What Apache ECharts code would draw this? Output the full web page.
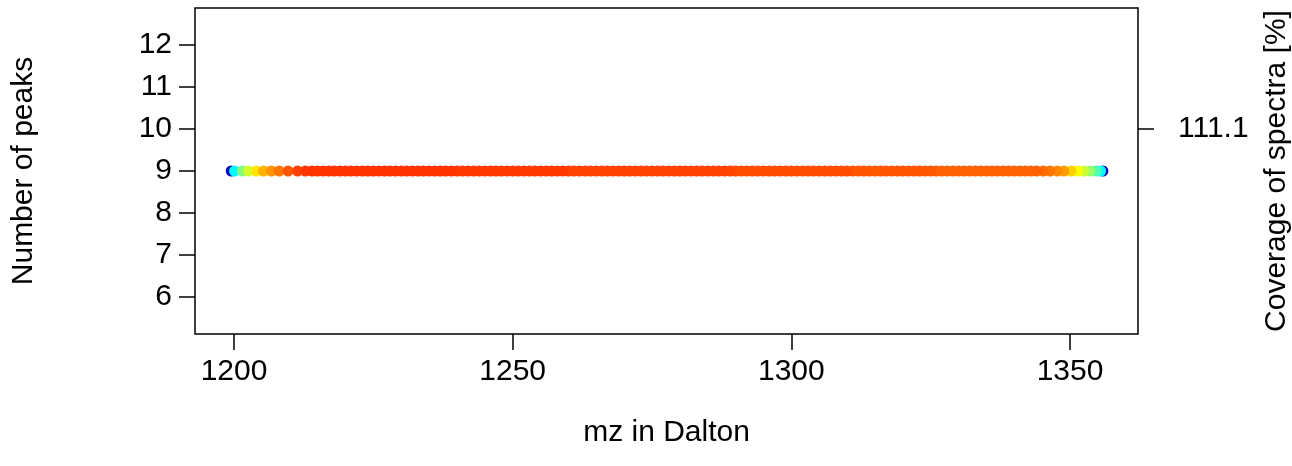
<!DOCTYPE html>
<html>
<head>
<meta charset="utf-8">
<script src="https://cdn.jsdelivr.net/npm/echarts@6/dist/echarts.min.js"></script>
<style>html,body{margin:0;padding:0;background:#fff}#c{width:1292px;height:466px}</style>
</head>
<body>
<div id="c"></div>
<script>
// m/z positions of the plotted points (Dalton)
const mz = [1199.5, 1200.1, 1201.5, 1202.6, 1204.0, 1205.3, 1206.7, 1208.1, 1209.7, 1211.4, 1212.8,
  1214, 1215, 1216, 1217, 1218, 1219, 1220, 1221, 1222, 1223, 1224, 1225, 1226, 1227, 1228, 1229, 1230, 1231, 1232, 1233, 1234, 1235, 1236, 1237, 1238, 1239,
  1240, 1241, 1242, 1243, 1244, 1245, 1246, 1247, 1248, 1249, 1250, 1251, 1252, 1253, 1254, 1255, 1256, 1257, 1258, 1259,
  1260, 1261, 1262, 1263, 1264, 1265, 1266, 1267, 1268, 1269, 1270, 1271, 1272, 1273, 1274, 1275, 1276, 1277, 1278, 1279, 1280, 1281, 1282, 1283, 1284, 1285, 1286, 1287, 1288, 1289,
  1290, 1291, 1292, 1293, 1294, 1295, 1296, 1297, 1298, 1299, 1300, 1301, 1302, 1303, 1304, 1305, 1306, 1307, 1308, 1309, 1310,
  1311, 1312, 1313, 1314, 1315, 1316, 1317, 1318, 1319, 1320, 1321, 1322, 1323, 1324, 1325,
  1326, 1327, 1328, 1329, 1330, 1331, 1332, 1333, 1334, 1335, 1336, 1337, 1338, 1339, 1340, 1341, 1342, 1343, 1344,
  1345.2, 1346.4, 1347.7, 1348.9, 1350.2, 1351.4, 1352.5, 1353.6, 1354.7, 1355.5, 1355.9];
// number of peaks at each position
const peaks = [9,9,9,9,9,9,9,9,9,9,9,
  9,9,9,9,9,9,9,9,9,9,9,9,9,9,9,9,9,9,9,9,9,9,9,9,9,9,
  9,9,9,9,9,9,9,9,9,9,9,9,9,9,9,9,9,9,9,9,
  9,9,9,9,9,9,9,9,9,9,9,9,9,9,9,9,9,9,9,9,9,9,9,9,9,9,9,9,9,9,
  9,9,9,9,9,9,9,9,9,9,9,9,9,9,9,9,9,9,9,9,9,
  9,9,9,9,9,9,9,9,9,9,9,9,9,9,9,
  9,9,9,9,9,9,9,9,9,9,9,9,9,9,9,9,9,9,9,
  9,9,9,9,9,9,9,9,9,9,9];
// relative coverage level (colour scale 0..1)
const coverage = [0.06, 0.37, 0.50, 0.58, 0.65, 0.70, 0.73, 0.76, 0.79, 0.81, 0.82,
  0.825,0.825,0.825,0.825,0.825,0.825,0.825,0.825,0.825,0.825,0.825,0.825,0.825,0.825,0.825,0.825,0.825,0.825,0.825,0.825,0.825,0.825,0.825,0.825,0.825,0.825,
  0.82,0.82,0.82,0.82,0.82,0.82,0.82,0.82,0.82,0.82,0.82,0.82,0.82,0.82,0.82,0.82,0.82,0.82,0.82,0.82,
  0.81,0.81,0.81,0.81,0.81,0.81,0.81,0.81,0.81,0.81,0.81,0.81,0.81,0.81,0.81,0.81,0.81,0.81,0.81,0.81,0.81,0.81,0.81,0.81,0.81,0.81,0.81,0.81,0.81,0.81,
  0.80,0.80,0.80,0.80,0.80,0.80,0.80,0.80,0.80,0.80,0.80,0.80,0.80,0.80,0.80,0.80,0.80,0.80,0.80,0.80,0.80,
  0.79,0.79,0.79,0.79,0.79,0.79,0.79,0.79,0.79,0.79,0.79,0.79,0.79,0.79,0.79,
  0.78,0.78,0.78,0.78,0.78,0.78,0.78,0.78,0.78,0.78,0.78,0.78,0.78,0.78,0.78,0.78,0.78,0.78,0.78,
  0.77, 0.76, 0.74, 0.72, 0.67, 0.62, 0.57, 0.52, 0.45, 0.37, 0.06];
const xTicks = [1200, 1250, 1300, 1350];
const yTicks = [6, 7, 8, 9, 10, 11, 12];
const rightTickValues = [10];
const rightTickLabels = ['111.1'];

const jet = ['#00007F', '#0000FF', '#007FFF', '#00FFFF', '#7FFF7F', '#FFFF00', '#FF7F00', '#FF0000', '#7F0000'];

const pts = mz.map((x, i) => [x, peaks[i], coverage[i]]);
pts.sort((a, b) => a[2] - b[2]);

const FONT = 'Liberation Sans, Arial, sans-serif';
const FS = 30;

const chart = echarts.init(document.getElementById('c'), null, {renderer: 'canvas'});
chart.setOption({
  animation: false,
  backgroundColor: '#fff',
  grid: {left: 195, top: 8, width: 943, height: 326, show: true, borderColor: '#000', borderWidth: 1.5,
    backgroundColor: 'transparent', containLabel: false, outerBoundsMode: 'none'},
  xAxis: {
    type: 'value', min: 1193.0, max: 1362.2,
    name: 'mz in Dalton', nameLocation: 'middle', nameGap: 84,
    nameTextStyle: {fontFamily: FONT, fontSize: FS, color: '#000'},
    axisLine: {show: false},
    splitLine: {show: false},
    axisTick: {show: true, inside: false, length: 16, lineStyle: {color: '#000', width: 1.5}, customValues: xTicks},
    axisLabel: {fontFamily: FONT, fontSize: FS, color: '#000', margin: 23, customValues: xTicks, formatter: v => String(v)}
  },
  yAxis: [{
    type: 'value', min: 5.12, max: 12.88, position: 'left',
    name: 'Number of peaks', nameLocation: 'middle', nameRotate: 90, nameGap: 156,
    nameTextStyle: {fontFamily: FONT, fontSize: FS, color: '#000'},
    axisLine: {show: false},
    splitLine: {show: false},
    axisTick: {show: true, inside: false, length: 16, lineStyle: {color: '#000', width: 1.5}, customValues: yTicks},
    axisLabel: {fontFamily: FONT, fontSize: FS, color: '#000', margin: 23, customValues: yTicks, formatter: v => String(v)}
  }, {
    type: 'value', min: 5.12, max: 12.88, position: 'right',
    name: 'Coverage of spectra [%]', nameLocation: 'middle', nameRotate: 90, nameGap: 124,
    nameTextStyle: {fontFamily: FONT, fontSize: FS, color: '#000'},
    axisLine: {show: false},
    splitLine: {show: false},
    axisTick: {show: true, inside: false, length: 16, lineStyle: {color: '#000', width: 1.5}, customValues: rightTickValues},
    axisLabel: {fontFamily: FONT, fontSize: FS, color: '#000', margin: 40, customValues: rightTickValues,
      formatter: v => rightTickLabels[rightTickValues.indexOf(v)] || ''}
  }],
  visualMap: {show: false, type: 'continuous', dimension: 2, min: 0, max: 1, seriesIndex: 0, inRange: {color: jet}},
  series: [{
    type: 'scatter', data: pts, symbol: 'circle', symbolSize: 11,
    itemStyle: {opacity: 1}, yAxisIndex: 0
  }]
});
</script>
</body>
</html>
